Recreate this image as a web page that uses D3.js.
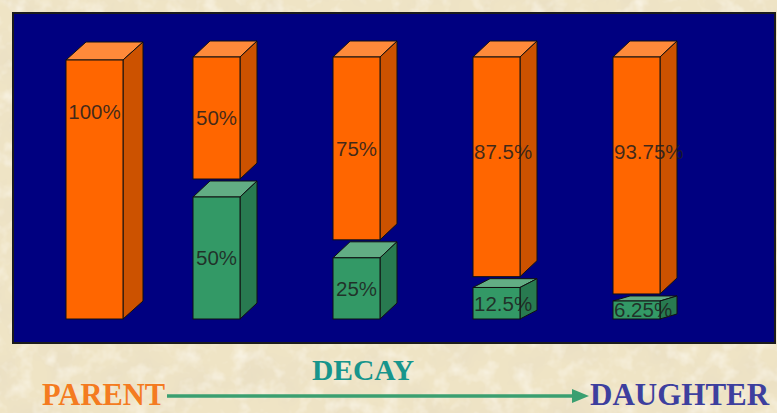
<!DOCTYPE html>
<html>
<head>
<meta charset="utf-8">
<script src="https://cdn.jsdelivr.net/npm/d3@7"></script>
<style>
  html, body { margin: 0; padding: 0; background: #f0e5c6; }
  svg { display: block; }
</style>
</head>
<body>
<svg id="chart" width="777" height="413"></svg>
<script>
// half-lives elapsed, one bar each
var categories = ["0 half-lives", "1 half-life", "2 half-lives", "3 half-lives", "4 half-lives"];
// upper (orange) and lower (green) segments, in percent
var orangePct = [100, 50, 75, 87.5, 93.75];
var greenPct = [0, 50, 25, 12.5, 6.25];
// captions under the plot
var captionLeft = "PARENT";
var captionMid = "DECAY";
var captionRight = "DAUGHTER";

var W = 777, H = 413;
var plot = { x: 13, y: 13, w: 762, h: 330 };

var colors = {
    orange: { front: "#ff6600", top: "#ff8a3a", side: "#cc5200" },
    green: { front: "#339966", top: "#62ad84", side: "#287a50" }
};

var svg = d3.select("#chart");
var defs = svg.append("defs");

// parchment texture
var f = defs.append("filter").attr("id", "parch")
    .attr("x", 0).attr("y", 0).attr("width", "100%").attr("height", "100%");
f.append("feTurbulence").attr("type", "fractalNoise")
    .attr("baseFrequency", "0.025").attr("numOctaves", 4).attr("seed", 7).attr("result", "n");
f.append("feColorMatrix").attr("in", "n").attr("type", "matrix")
    .attr("values", "0 0 0 0 0.80  0 0 0 0 0.72  0 0 0 0 0.55  0 0 0 1.2 -0.48");

var f2 = defs.append("filter").attr("id", "speck")
    .attr("x", 0).attr("y", 0).attr("width", "100%").attr("height", "100%");
f2.append("feTurbulence").attr("type", "fractalNoise")
    .attr("baseFrequency", "0.06").attr("numOctaves", 3).attr("seed", 2).attr("result", "n");
f2.append("feColorMatrix").attr("in", "n").attr("type", "matrix")
    .attr("values", "0 0 0 0 1  0 0 0 0 0.98  0 0 0 0 0.93  0 0 0 1.3 -0.6");

svg.append("rect").attr("width", W).attr("height", H).attr("fill", "#efe4c5");
svg.append("rect").attr("width", W).attr("height", H).attr("filter", "url(#parch)");
svg.append("rect").attr("width", W).attr("height", H).attr("filter", "url(#speck)");

// plot area
svg.append("rect")
    .attr("x", plot.x).attr("y", plot.y)
    .attr("width", plot.w).attr("height", plot.h)
    .attr("fill", "#000080")
    .attr("stroke", "#1b1b1b").attr("stroke-width", 2);

// x positions: bars 2..5 share one step, the first bar is a wider standalone one
var x = d3.scaleBand()
    .domain(categories)
    .range([53, 660])
    .paddingInner(93 / 140)
    .paddingOuter(0);

var baseY = 319;

function drawBox(g, bx, top, w, h, dx, dy, c) {
    g.append("path")
        .attr("d", "M" + bx + "," + top + "L" + (bx + dx) + "," + (top - dy) +
            "L" + (bx + w + dx) + "," + (top - dy) + "L" + (bx + w) + "," + top + "Z")
        .attr("fill", c.top).attr("stroke", "#111").attr("stroke-width", 1);
    g.append("path")
        .attr("d", "M" + (bx + w) + "," + top + "L" + (bx + w + dx) + "," + (top - dy) +
            "L" + (bx + w + dx) + "," + (top + h - dy) + "L" + (bx + w) + "," + (top + h) + "Z")
        .attr("fill", c.side).attr("stroke", "#111").attr("stroke-width", 1);
    g.append("rect")
        .attr("x", bx).attr("y", top).attr("width", w).attr("height", h)
        .attr("fill", c.front).attr("stroke", "#111").attr("stroke-width", 1);
}

function drawLabel(g, bx, w, cy, txt) {
    var t = g.append("text")
        .attr("y", cy)
        .attr("dy", "0.36em")
        .attr("font-family", "'Liberation Sans', Arial, sans-serif")
        .attr("font-size", 20.5)
        .attr("fill", "#1e1e1e")
        .attr("fill-opacity", 0.85)
        .text(txt);
    var tw = t.node().getComputedTextLength();
    t.attr("x", Math.max(bx + 1, bx + w / 2 - tw / 2));
}

var bars = svg.append("g").attr("class", "bars");

categories.forEach(function(cat, i) {
    var g = bars.append("g").attr("class", "bar");
    var o = orangePct[i], gr = greenPct[i];

    if (i === 0) {
        // lone 100% column
        var bx0 = x(cat) + 13, w0 = 57, top0 = 60;
        var y0 = d3.scaleLinear().domain([0, 100]).range([0, baseY - top0]);
        var h0 = y0(o);
        drawBox(g, bx0, baseY - h0, w0, h0, 20, 18, colors.orange);
        drawLabel(g, bx0, w0, Math.min(baseY - h0 / 2, baseY - h0 + 52), o + "%");
        return;
    }

    var bx = x(cat), w = x.bandwidth(), top = 57, dx = 17, dy = 16;
    var avail = baseY - top - 2;
    // green top face gets flatter when the segment is short
    var k = (avail - dy) / 100;
    if (gr * k * 0.25 < dy) k = avail / (100 + 0.25 * gr);
    var y = d3.scaleLinear().domain([0, 100]).range([0, 100 * k]);

    var gh = Math.max(y(gr), 18);
    var gdy = Math.min(dy, gh * 0.28);
    drawBox(g, bx, baseY - gh, w, gh, dx, gdy, colors.green);
    drawLabel(g, bx, w, baseY - gh / 2, gr + "%");

    var oh = Math.min(y(o), baseY - gh - gdy - 2 - top);
    drawBox(g, bx, top, w, oh, dx, dy, colors.orange);
    drawLabel(g, bx, w, Math.min(top + oh / 2, top + 95), o + "%");
});

// captions and arrow
var serif = "'Liberation Serif', 'Times New Roman', serif";
svg.append("text")
    .attr("x", 42).attr("y", 405)
    .attr("font-family", serif).attr("font-weight", "bold").attr("font-size", 30.5)
    .attr("fill", "#f47b20")
    .text(captionLeft);

svg.append("line")
    .attr("x1", 167).attr("x2", 576).attr("y1", 396).attr("y2", 396)
    .attr("stroke", "#3a9f70").attr("stroke-width", 3.5);
svg.append("path")
    .attr("d", "M572,389L589,396L572,403Z")
    .attr("fill", "#3a9f70");

svg.append("text")
    .attr("x", 363).attr("y", 380)
    .attr("text-anchor", "middle")
    .attr("font-family", serif).attr("font-weight", "bold").attr("font-size", 29.5)
    .attr("fill", "#17958c")
    .text(captionMid);

svg.append("text")
    .attr("x", 590).attr("y", 405)
    .attr("font-family", serif).attr("font-weight", "bold").attr("font-size", 31)
    .attr("fill", "#3d3f9e")
    .text(captionRight);
</script>
</body>
</html>
